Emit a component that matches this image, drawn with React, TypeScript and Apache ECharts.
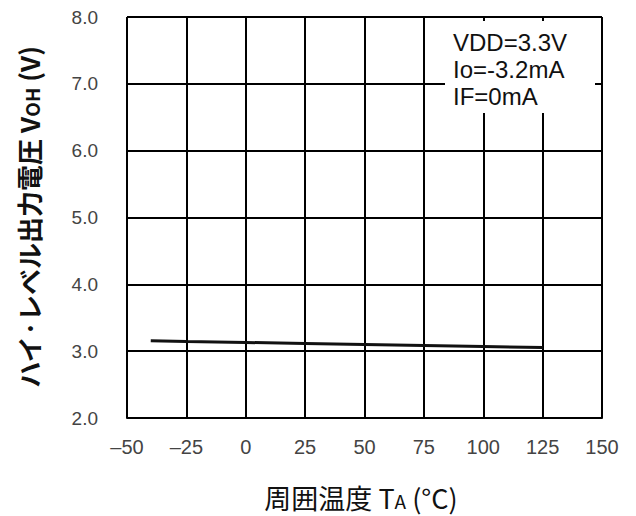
import React, { useEffect, useRef } from "react";
import * as echarts from "echarts";

const temperatures = [-40, -25, 0, 25, 50, 75, 100, 125];
const vohValues = [3.155, 3.145, 3.13, 3.115, 3.1, 3.085, 3.07, 3.055];
const xTicks = { min: -50, max: 150, interval: 25 };
const yTicks = { min: 2, max: 8, interval: 1 };
const conditionLines = ["VDD=3.3V", "Io=-3.2mA", "IF=0mA"];
const yTitle = ["ハイ·レベル出力電圧 V", "OH", " (V)"];
const xTitle = ["周囲温度 T", "A", " (°C)"];

export default function App() {
  const ref = useRef<HTMLDivElement>(null);
  useEffect(() => {
    if (!ref.current) return;
    const chart = echarts.init(ref.current, undefined, { renderer: "svg" });
    const tickFont = { fontFamily: "Liberation Sans, Arial, sans-serif", fontSize: 20, color: "#444" };
    chart.setOption({
      animation: false,
      backgroundColor: "#ffffff",
      grid: { left: 127, right: 34, top: 17, bottom: 98, containLabel: false },
      xAxis: {
        type: "value",
        min: xTicks.min,
        max: xTicks.max,
        interval: xTicks.interval,
        axisLine: { show: true, onZero: false, lineStyle: { color: "#000", width: 2 } },
        axisTick: { show: false },
        splitLine: { show: true, lineStyle: { color: "#000", width: 2 } },
        axisLabel: {
          ...tickFont,
          margin: 19,
          formatter: (v: number) => (v < 0 ? "\u2013" + Math.abs(v) : String(v)),
        },
      },
      yAxis: {
        type: "value",
        min: yTicks.min,
        max: yTicks.max,
        interval: yTicks.interval,
        axisLine: { show: true, lineStyle: { color: "#000", width: 2 } },
        axisTick: { show: false },
        splitLine: { show: true, lineStyle: { color: "#000", width: 2 } },
        axisLabel: {
          ...tickFont,
          fontSize: 19,
          margin: 29,
          formatter: (v: number) => v.toFixed(1),
        },
      },
      series: [
        {
          type: "line",
          data: temperatures.map((t, i) => [t, vohValues[i]]),
          showSymbol: false,
          lineStyle: { color: "#111", width: 3 },
          z: 3,
        },
      ],
      graphic: [
        {
          type: "rect",
          shape: { x: 445, y: 21, width: 150, height: 92 },
          style: { fill: "#fff" },
          z: 10,
        },
        ...conditionLines.map((line, i) => ({
          type: "text",
          x: 453,
          y: 42 + i * 27,
          z: 11,
          style: {
            text: line,
            font: "24px 'Liberation Sans', Arial, sans-serif",
            fill: "#111",
            align: "left",
            verticalAlign: "middle",
          },
        })),
        {
          type: "text",
          x: 28,
          y: 217,
          rotation: Math.PI / 2,
          z: 11,
          style: {
            text: `{a|${yTitle[0]}}{s|${yTitle[1]}}{a|${yTitle[2]}}`,
            align: "center",
            verticalAlign: "middle",
            rich: {
              a: { fontSize: 26, fontFamily: "Noto Sans CJK JP", fontWeight: "bold", fill: "#111" },
              s: { fontSize: 19, fontFamily: "Noto Sans CJK JP", fontWeight: "bold", fill: "#111", padding: [6, 0, 0, 0] },
            },
          },
        },
        {
          type: "text",
          x: 361,
          y: 497,
          z: 11,
          style: {
            text: `{a|${xTitle[0]}}{s|${xTitle[1]}}{a|${xTitle[2]}}`,
            align: "center",
            verticalAlign: "middle",
            rich: {
              a: { fontSize: 27, fontFamily: "Noto Sans CJK JP", fill: "#111" },
              s: { fontSize: 19, fontFamily: "Noto Sans CJK JP", fill: "#111", padding: [7, 0, 0, 0] },
            },
          },
        },
      ],
    });
    return () => chart.dispose();
  }, []);
  return <div ref={ref} style={{ width: 636, height: 516, position: "absolute", left: 0, top: 0 }} />;
}
